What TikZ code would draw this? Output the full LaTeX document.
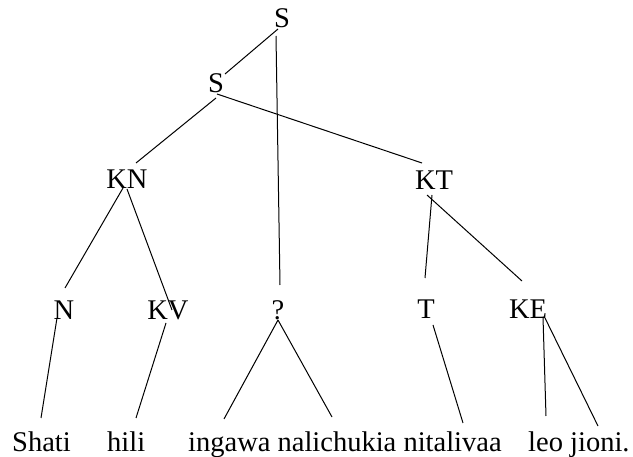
\documentclass[tikz,border=0pt]{standalone}
\usepackage{fontspec}
\setmainfont{Liberation Serif}
\begin{document}
\begin{tikzpicture}[x=1pt,y=-1pt,
  lab/.style={inner sep=0pt, anchor=base, font=\fontsize{28.5}{34}\selectfont},
  word/.style={inner sep=0pt, anchor=base west, font=\fontsize{28.5}{34}\selectfont},
  edge/.style={line width=1pt, black}]
\useasboundingbox (0,0) rectangle (633,457);
% labels
\node[lab] (S1) at (282,28) {S};
\node[lab] (S2) at (216,93) {S};
\node[lab] (KN) at (127,189) {KN};
\node[lab] (KT) at (434,190) {KT};
\node[lab] (N) at (64,320) {N};
\node[lab] (KV) at (168,320) {KV};
\node[lab] (Q) at (278,320) {?};
\node[lab] (T) at (426,319) {T};
\node[lab] (KE) at (528,319) {KE};
% words
\node[word] (w1) at (12,452) {Shati};
\node[word] (w2) at (107,452) {hili};
\node[word] (w3) at (188,452) {ingawa};
\node[word] (w4) at (277.4,452) {nalichukia};
\node[word] (w5) at (403.3,452) {nitalivaa};
\node[word] (w6) at (528,452) {leo};
\node[word] (w7) at (570,452) {jioni.};
% connector ends
\coordinate (S1a) at (278,29);
\coordinate (S2a) at (225,74);
\coordinate (S1b) at (276,36);
\coordinate (Qa) at (280,285);
\coordinate (S2b) at (216,98);
\coordinate (KNa) at (136,163);
\coordinate (S2c) at (217,94);
\coordinate (KTa) at (422,163);
\coordinate (KNb) at (123,188);
\coordinate (Na) at (65,288);
\coordinate (KNc) at (127,189);
\coordinate (KVa) at (172,310);
\coordinate (KTb) at (432,195);
\coordinate (Ta) at (425,278);
\coordinate (KTc) at (427,195);
\coordinate (KEa) at (522,281);
\coordinate (Nb) at (57,318);
\coordinate (w1a) at (41,418);
\coordinate (KVb) at (166,323);
\coordinate (w2a) at (136,418);
\coordinate (Qb) at (278,320);
\coordinate (w3a) at (224,419);
\coordinate (w4a) at (332,417);
\coordinate (Tb) at (433,325);
\coordinate (w5a) at (463,423);
\coordinate (KEb) at (543,317);
\coordinate (w6a) at (546,416);
\coordinate (KEc) at (545,318);
\coordinate (w7a) at (598,426);
% connectors
\draw[edge] (S1a) -- (S2a);
\draw[edge] (S1b) -- (Qa);
\draw[edge] (S2b) -- (KNa);
\draw[edge] (S2c) -- (KTa);
\draw[edge] (KNb) -- (Na);
\draw[edge] (KNc) -- (KVa);
\draw[edge] (KTb) -- (Ta);
\draw[edge] (KTc) -- (KEa);
\draw[edge] (Nb) -- (w1a);
\draw[edge] (KVb) -- (w2a);
\draw[edge] (Qb) -- (w3a);
\draw[edge] (Qb) -- (w4a);
\draw[edge] (Tb) -- (w5a);
\draw[edge] (KEb) -- (w6a);
\draw[edge] (KEc) -- (w7a);
\end{tikzpicture}
\end{document}
